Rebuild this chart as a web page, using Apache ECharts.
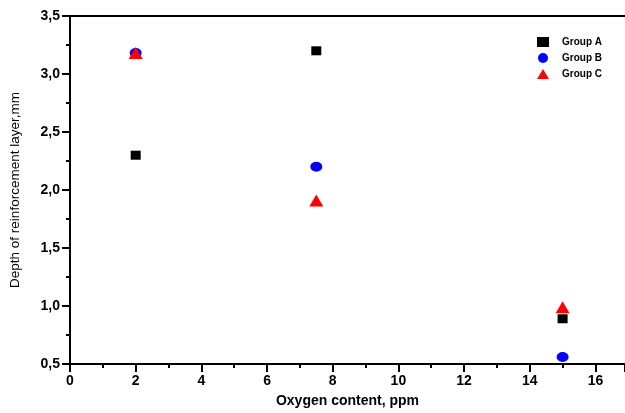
<!DOCTYPE html>
<html><head><meta charset="utf-8">
<script src="https://cdn.jsdelivr.net/npm/echarts@6/dist/echarts.min.js"></script>
<style>html,body{margin:0;padding:0;background:#fff}#c{width:625px;height:413px}</style>
</head><body><div id="c"></div>
<script>
const groupNames = ['Group A', 'Group B', 'Group C'];
const groupAx = [2, 7.5, 15];
const groupAy = [2.30, 3.20, 0.89];
const groupBx = [2, 7.5, 15];
const groupBy = [3.18, 2.20, 0.56];
const groupCx = [2, 7.5, 15];
const groupCy = [3.18, 1.91, 0.99];
const xTitle = 'Oxygen content, ppm';
const yTitle = 'Depth of reinforcement layer,mm';

const pairs = (xs, ys) => xs.map((x, i) => [x, ys[i]]);
const chart = echarts.init(document.getElementById('c'), null, {renderer: 'canvas'});
const font = 'Liberation Sans, Arial, sans-serif';
const axisCommon = {
  axisLine: {show: true, onZero: false, lineStyle: {color: '#000', width: 2}},
  axisTick: {show: true, inside: false, length: 8, lineStyle: {color: '#000', width: 2}},
  minorTick: {show: true, splitNumber: 2, length: 4, lineStyle: {color: '#000', width: 2}},
  splitLine: {show: false},
  axisLabel: {color: '#000', fontWeight: 'bold', fontSize: 14, fontFamily: font}
};
chart.setOption({
  animation: false,
  backgroundColor: '#fff',
  grid: {left: 67, right: 0, top: 16, bottom: 45, containLabel: false},
  legend: {
    orient: 'vertical', left: 532, top: 32, itemGap: 6,
    itemWidth: 12, itemHeight: 10,
    textStyle: {fontWeight: 'bold', fontSize: 10, fontFamily: font, color: '#000', padding: [0, 0, 0, 8]},
    data: groupNames
  },
  xAxis: [Object.assign({}, axisCommon, {
    type: 'value', min: 0, max: 16.9, interval: 2, position: 'bottom',
    axisLabel: Object.assign({}, axisCommon.axisLabel, {showMaxLabel: false, margin: 10}),
    name: xTitle, nameLocation: 'middle', nameGap: 30,
    nameTextStyle: {color: '#000', fontWeight: 'bold', fontSize: 14, fontFamily: font}
  }), {
    type: 'value', min: 0, max: 16.9, position: 'top',
    axisLine: {show: true, lineStyle: {color: '#000', width: 2}},
    axisTick: {show: false}, axisLabel: {show: false}, splitLine: {show: false}
  }],
  yAxis: Object.assign({}, axisCommon, {
    type: 'value', min: 0.5, max: 3.5, interval: 0.5,
    axisLabel: Object.assign({}, axisCommon.axisLabel, {margin: 10,
      formatter: v => v.toFixed(1).replace('.', ',')}),
    name: yTitle, nameLocation: 'middle', nameGap: 48, nameRotate: 90,
    nameTextStyle: {color: '#000', fontSize: 13.5, fontFamily: font}
  }),
  series: [
    {name: groupNames[0], type: 'scatter', symbol: 'rect', symbolSize: [10, 9],
     itemStyle: {color: '#000', opacity: 1}, data: pairs(groupAx, groupAy)},
    {name: groupNames[1], type: 'scatter', symbol: 'circle', symbolSize: [12, 10],
     itemStyle: {color: '#0000ff', opacity: 1}, data: pairs(groupBx, groupBy)},
    {name: groupNames[2], type: 'scatter', symbol: 'triangle', symbolSize: [14, 12],
     itemStyle: {color: '#ff0000', opacity: 1}, data: pairs(groupCx, groupCy)}
  ]
});
</script></body></html>
